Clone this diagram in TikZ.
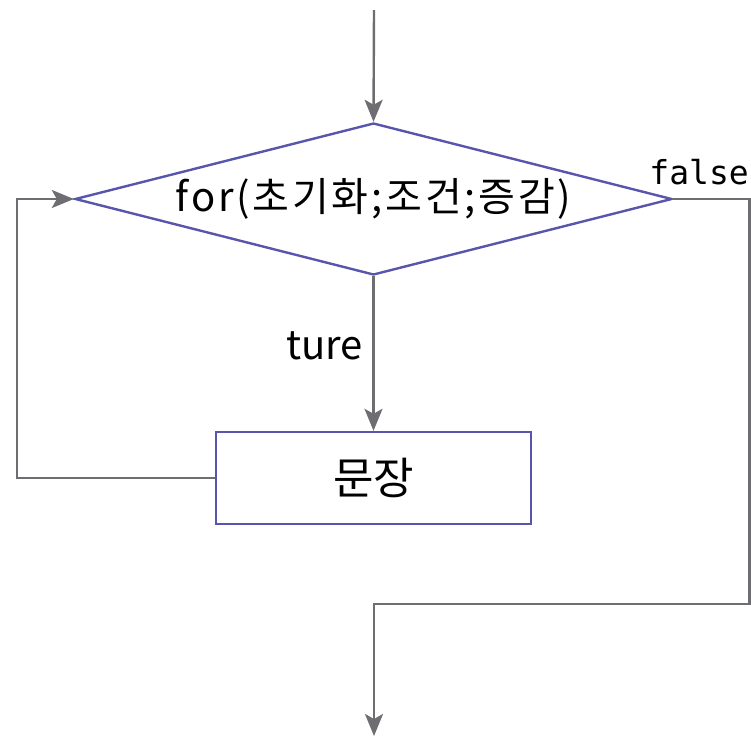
\documentclass[tikz,border=0pt]{standalone}
\usepackage{fontspec}
\newfontfamily\kr{Noto Sans CJK KR}
\newfontfamily\mono{DejaVu Sans Mono}
\usetikzlibrary{arrows.meta,shapes.geometric,positioning}
\definecolor{flowG}{RGB}{110,110,114}
\definecolor{boxB}{RGB}{88,86,172}

\begin{document}
\begin{tikzpicture}[x=1pt,y=-1pt,
    flow/.style={flowG,line width=2.4pt},
    arr/.style={-{Stealth[length=22pt,width=18pt,inset=5pt]}},
    cond/.style={diamond,draw=boxB,line width=2.4pt,aspect=3.93,
      minimum width=597pt,minimum height=152pt,inner sep=0pt,
      font=\kr\fontsize{40}{46}\selectfont\addfontfeature{LetterSpace=7}},
    stmt/.style={rectangle,draw=boxB,line width=2.4pt,
      minimum width=315pt,minimum height=92pt,inner sep=0pt,
      font=\kr\fontsize{44}{50}\selectfont}]
  \useasboundingbox (0,0) rectangle (751,737);
  % nodes
  \coordinate (start) at (374,10);
  \node[cond] (loop) at (373.5,199) {for(초기화;조건;증감)};
  \node[stmt] (body) at (373.5,478) {문장};
  % bends
  \coordinate (back) at (17,199);
  \coordinate (exitR) at (749.5,604);
  \coordinate (exitL) at (374,604);
  \coordinate (stop) at (374,736);
  % connectors
  \draw[flow,arr] (start) -- (loop.north);
  \draw[flow,arr] (loop.south) -- (body.north)
     node[pos=0.45,left=6pt,black,font=\kr\fontsize{40}{44}\selectfont]{ture};
  \draw[flow,arr] (body.west) -| (back) -- (loop.west);
  \draw[flow,line cap=rect] (loop.east) -| (exitR) -- (exitL);
  \draw[flow,arr] (exitL) -- (stop);
  \node[font=\mono\fontsize{33}{36}\selectfont,anchor=south east,inner sep=0pt] (falseLbl) at (749,185) {false};
\end{tikzpicture}
\end{document}
